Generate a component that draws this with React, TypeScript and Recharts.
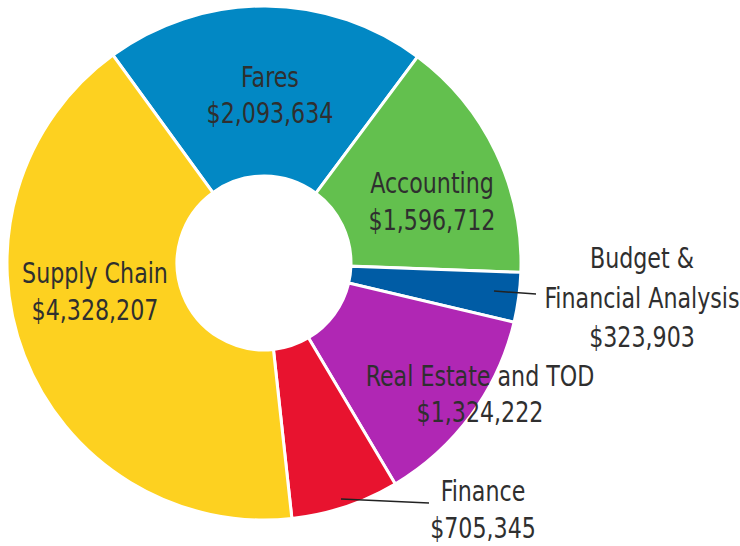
import { PieChart, Pie, Cell } from "recharts";

const names = ["Fares", "Accounting", "Budget & Financial Analysis", "Real Estate and TOD", "Finance", "Supply Chain"];
const amounts = [2093634, 1596712, 323903, 1324222, 705345, 4328207];
const labelLines = [
  ["Fares", "$2,093,634"],
  ["Accounting", "$1,596,712"],
  ["Budget &", "Financial Analysis", "$323,903"],
  ["Real Estate and TOD", "$1,324,222"],
  ["Finance", "$705,345"],
  ["Supply Chain", "$4,328,207"],
];
const colors = ["#0288c4", "#63c04e", "#005ca5", "#b027b4", "#e8132f", "#fdd120"];

// label layout, offsets from the pie centre
const labelPos = [
  { dx: 6, dy: [-186, -150] },
  { dx: 168, dy: [-80, -43] },
  { dx: 378, dy: [-5, 35, 74] },
  { dx: 216, dy: [113, 149] },
  { dx: 219, dy: [228, 265] },
  { dx: -169, dy: [10, 47] },
];
const leaders: Record<number, number[]> = {
  2: [230, 28, 272, 31],
  4: [77, 236, 165, 240],
};

const data = names.map((name, i) => ({ name, value: amounts[i] }));

const renderLabel = (props: any) => {
  const { cx, cy, index } = props;
  const pos = labelPos[index];
  const ln = leaders[index];
  return (
    <g>
      {ln && (
        <line x1={cx + ln[0]} y1={cy + ln[1]} x2={cx + ln[2]} y2={cy + ln[3]} stroke="#222" strokeWidth={1.5} />
      )}
      {labelLines[index].map((t, j) => (
        // narrow the glyphs a bit, the original uses a condensed face
        <g key={j} transform={`translate(${cx + pos.dx},${cy + pos.dy[j]}) scale(0.88,1)`}>
          <text
            x={0}
            y={0}
            textAnchor="middle"
            dominantBaseline="central"
            fill="#2f2f2f"
            fontSize={28}
            fontFamily="'DejaVu Sans Condensed', 'DejaVu Sans', sans-serif"
            style={{ fontStretch: "condensed" }}
          >
            {t}
          </text>
        </g>
      ))}
    </g>
  );
};

export default function App() {
  return (
    <div style={{ position: "absolute", left: 0, top: 0, background: "#fff" }}>
      <PieChart width={740} height={546} margin={{ top: 0, right: 0, bottom: 0, left: 0 }}>
        <Pie
          data={data}
          dataKey="value"
          nameKey="name"
          cx={264}
          cy={263}
          innerRadius={87}
          outerRadius={257}
          startAngle={126}
          endAngle={-234}
          stroke="#fff"
          strokeWidth={3}
          labelLine={false}
          label={renderLabel}
          isAnimationActive={false}
        >
          {data.map((d, i) => (
            <Cell key={d.name} fill={colors[i]} />
          ))}
        </Pie>
      </PieChart>
    </div>
  );
}
